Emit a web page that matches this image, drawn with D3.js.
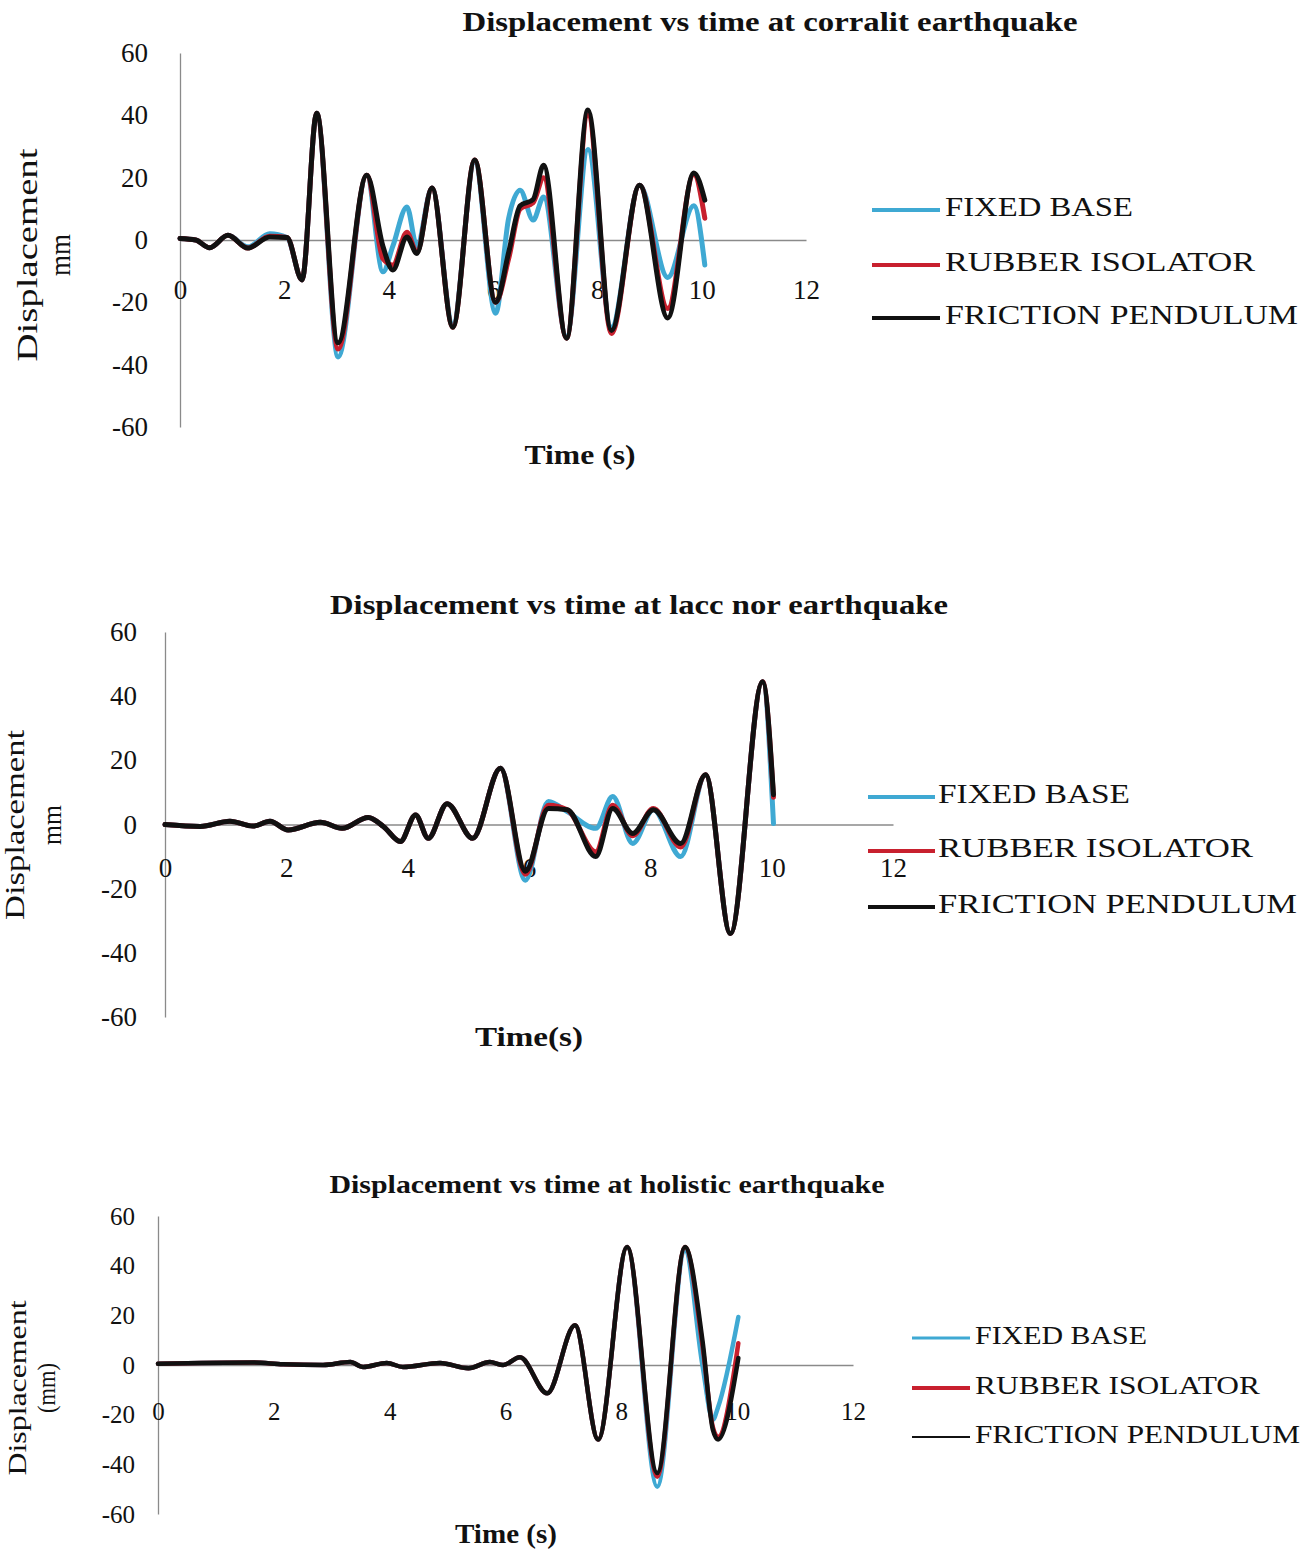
<!DOCTYPE html>
<html>
<head>
<meta charset="utf-8">
<script src="https://cdn.jsdelivr.net/npm/d3@7"></script>
<style>
  body { margin: 0; background: #fff; }
  text { font-family: "Liberation Serif", "DejaVu Serif", serif; fill: #111; }
</style>
</head>
<body>
<svg id="chart" width="1313" height="1554"></svg>
<script>
// shared ticks and legend
let xTicks = [0, 2, 4, 6, 8, 10, 12];
let yTicks = [-60, -40, -20, 0, 20, 40, 60];
let seriesNames = ["FIXED BASE", "RUBBER ISOLATOR", "FRICTION PENDULUM"];
let seriesColors = ["#3fa9d3", "#c8202e", "#111111"];

// corralit earthquake
let t1 = [0, 0.3, 0.57, 0.92, 1.3, 1.72, 2.05, 2.34, 2.62, 3.03, 3.58, 3.89, 4.08, 4.35, 4.54, 4.83, 5.23, 5.65, 6.05, 6.3, 6.52, 6.77, 6.97, 7.41, 7.82, 8.27, 8.81, 9.35, 9.85, 10.06];
let fixed1 = [0.5, 0, -2.5, 1.5, -2.2, 2, 0.8, -12.8, 40.7, -37.5, 20.8, -10.2, -2, 10.6, -2, 16.7, -27, 25, -23.5, 7, 16, 6.4, 13.8, -31, 29, -28, 17.6, -12, 11, -8];
let rubber1 = [0.5, 0, -2.5, 1.5, -2.6, 1.2, 0.8, -12.8, 40.7, -35, 20.8, -6, -8, 2.5, -4, 16.7, -28, 25.7, -20, -6, 10, 12, 20, -31.5, 40, -30, 17.6, -22, 21, 7];
let friction1 = [0.5, 0, -2.5, 1.5, -2.6, 1, 0.8, -12.8, 40.7, -33, 20.8, -2, -9.6, 1, -4.3, 16.7, -28, 25.7, -20, -4, 11, 13, 24, -31.5, 41.7, -29, 17.6, -25, 21.5, 12.8];

// lacc nor earthquake
let t2 = [0, 0.58, 1.07, 1.45, 1.73, 2.03, 2.56, 2.92, 3.35, 3.6, 3.88, 4.13, 4.34, 4.65, 5.07, 5.53, 5.94, 6.32, 6.63, 7.1, 7.38, 7.71, 8.05, 8.5, 8.91, 9.32, 9.85, 10.03];
let fixed2 = [0, -0.6, 1, -0.5, 1, -1.7, 0.7, -1.2, 2.2, -0.6, -5.3, 3, -4.3, 6.5, -4.3, 17.5, -17.4, 7.2, 4, -1.2, 8.7, -5.9, 4.6, -10, 15.5, -34, 44.5, 0.3];
let rubber2 = [0, -0.6, 1, -0.5, 1, -1.7, 0.7, -1.2, 2.2, -0.6, -5.3, 3, -4.3, 6.5, -4.3, 17.5, -15.5, 6, 4.6, -8.5, 6, -3.5, 5, -7, 15.5, -34, 44.5, 8.5];
let friction2 = [0, -0.6, 1, -0.5, 1, -1.7, 0.7, -1.2, 2.2, -0.6, -5.3, 3, -4.3, 6.5, -4.3, 17.5, -14.6, 5, 4.6, -10, 5, -2.8, 4.6, -5.9, 15.5, -34, 44.5, 9.3];

// holistic earthquake
let t3 = [0, 1.64, 2.16, 2.85, 3.32, 3.54, 3.95, 4.23, 4.87, 5.36, 5.73, 5.96, 6.25, 6.72, 7.2, 7.6, 8.1, 8.62, 9.1, 9.4, 9.58, 9.67, 10.02];
let fixed3 = [0.5, 1, 0.3, 0, 1.2, -0.8, 0.8, -0.8, 0.8, -1.3, 1.2, 0, 3.1, -11.4, 16, -30, 47.5, -49, 46, 0, -22, -17, 19.3];
let rubber3 = [0.5, 1, 0.3, 0, 1.2, -0.8, 0.8, -0.8, 0.8, -1.3, 1.2, 0, 3.1, -11.4, 16, -30, 47.5, -45, 47.5, 8, -25, -29, 8.8];
let friction3 = [0.5, 1, 0.3, 0, 1.2, -0.8, 0.8, -0.8, 0.8, -1.3, 1.2, 0, 3.1, -11.4, 16, -30, 47.5, -43.5, 47.5, 10, -26, -30, 2.8];

let svg = d3.select("#chart");

let charts = [
  {
    title: "Displacement vs time at corralit earthquake", titleX: 770, titleY: 25, titleW: 615, titleSize: 27,
    t: t1, series: [fixed1, rubber1, friction1],
    xr: [180, 806], yr: [427, 53], xPad: 40, yPad: 32, tickSize: 27,
    xTitle: "Time (s)", xTitleX: 580, xTitleY: 458, xTitleW: 111,
    yTitle: ["Displacement", "mm"], yTitleX: [30, 63], yTitleY: 255, yTitleW: [213, 42], yTitleSize: 29,
    lx: [872, 940, 945], ly: [210, 265, 318], lw: [188, 310, 353], lSize: 27, lStroke: [4, 4, 4],
    lineW: 5
  },
  {
    title: "Displacement vs time at lacc nor earthquake", titleX: 639, titleY: 608, titleW: 618, titleSize: 27,
    t: t2, series: [fixed2, rubber2, friction2],
    xr: [165, 893], yr: [1017, 632], xPad: 33, yPad: 28, tickSize: 27,
    xTitle: "Time(s)", xTitleX: 529, xTitleY: 1040, xTitleW: 108,
    yTitle: ["Displacement", "mm"], yTitleX: [18, 55], yTitleY: 825, yTitleW: [190, 40], yTitleSize: 28,
    lx: [868, 935, 938], ly: [797, 851, 907], lw: [192, 315, 359], lSize: 27, lStroke: [4, 4, 4],
    lineW: 5
  },
  {
    title: "Displacement vs time at holistic earthquake", titleX: 607, titleY: 1187, titleW: 555, titleSize: 25,
    t: t3, series: [fixed3, rubber3, friction3],
    xr: [158, 853], yr: [1514, 1216], xPad: 37, yPad: 23, tickSize: 25,
    xTitle: "Time (s)", xTitleX: 506, xTitleY: 1537, xTitleW: 102,
    yTitle: ["Displacement", "(mm)"], yTitleX: [20, 49], yTitleY: 1388, yTitleW: [175, 50], yTitleSize: 26,
    lx: [912, 970, 975], ly: [1338, 1388, 1437], lw: [172, 285, 325], lSize: 25, lStroke: [3, 4, 2],
    lineW: 4.5
  }
];

let drawChart = (c) => {
  let x = d3.scaleLinear().domain([0, 12]).range(c.xr);
  let y = d3.scaleLinear().domain([-60, 60]).range(c.yr);
  let g = svg.append("g");

  // y axis (plain hyphen like the original)
  let yAxis = d3.axisLeft(y).tickValues(yTicks).tickSize(0).tickPadding(c.yPad)
    .tickFormat((d) => String(d));
  let ya = g.append("g").attr("transform", `translate(${c.xr[0]},0)`).call(yAxis);
  // x axis through zero
  let xAxis = d3.axisBottom(x).tickValues(xTicks).tickSize(0).tickPadding(c.xPad)
    .tickFormat((d) => String(d));
  let xa = g.append("g").attr("transform", `translate(0,${y(0)})`).call(xAxis);

  [ya, xa].forEach((a) => {
    a.select(".domain").attr("stroke", "#8a8a8a").attr("stroke-width", 1.3);
    a.selectAll("text")
      .style("font-family", '"Liberation Serif", serif')
      .style("font-size", c.tickSize + "px")
      .attr("fill", "#222");
  });

  // series lines, blue first, black on top
  let line = d3.line()
    .x((d, i) => x(c.t[i]))
    .y((d) => y(d))
    .curve(d3.curveMonotoneX);
  c.series.forEach((s, k) => {
    g.append("path")
      .datum(s)
      .attr("d", line)
      .attr("fill", "none")
      .attr("stroke", seriesColors[k])
      .attr("stroke-width", c.lineW)
      .attr("stroke-linejoin", "round")
      .attr("stroke-linecap", "round");
  });

  // title
  g.append("text")
    .attr("x", c.titleX).attr("y", c.titleY)
    .attr("text-anchor", "middle").attr("dominant-baseline", "middle")
    .attr("textLength", c.titleW).attr("lengthAdjust", "spacingAndGlyphs")
    .style("font-size", c.titleSize + "px").style("font-weight", "bold")
    .text(c.title);

  // x title
  g.append("text")
    .attr("x", c.xTitleX).attr("y", c.xTitleY)
    .attr("text-anchor", "middle").attr("dominant-baseline", "middle")
    .attr("textLength", c.xTitleW).attr("lengthAdjust", "spacingAndGlyphs")
    .style("font-size", "28px").style("font-weight", "bold")
    .text(c.xTitle);

  // y title, two rotated lines
  c.yTitle.forEach((txt, i) => {
    g.append("text")
      .attr("transform", `translate(${c.yTitleX[i]},${c.yTitleY}) rotate(-90)`)
      .attr("text-anchor", "middle").attr("dominant-baseline", "middle")
      .attr("textLength", c.yTitleW[i]).attr("lengthAdjust", "spacingAndGlyphs")
      .style("font-size", c.yTitleSize + "px")
      .text(txt);
  });

  // legend
  seriesNames.forEach((name, k) => {
    g.append("line")
      .attr("x1", c.lx[0]).attr("x2", c.lx[1])
      .attr("y1", c.ly[k]).attr("y2", c.ly[k])
      .attr("stroke", seriesColors[k]).attr("stroke-width", c.lStroke[k]);
    g.append("text")
      .attr("x", c.lx[2]).attr("y", c.ly[k])
      .attr("dominant-baseline", "middle")
      .attr("textLength", c.lw[k]).attr("lengthAdjust", "spacingAndGlyphs")
      .style("font-size", c.lSize + "px")
      .text(name);
  });
};

charts.forEach(drawChart);
</script>
</body>
</html>
